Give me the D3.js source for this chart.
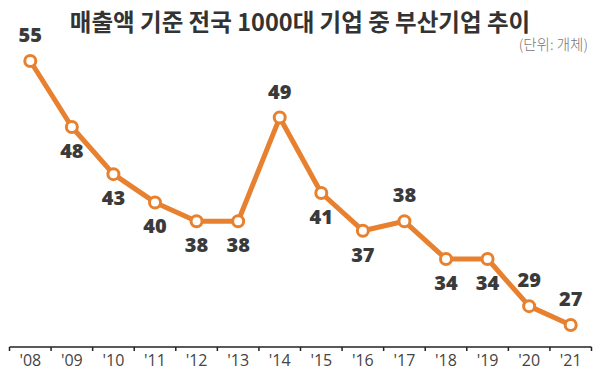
<!DOCTYPE html>
<html><head><meta charset="utf-8">
<script src="https://cdn.jsdelivr.net/npm/d3@7"></script>
<style>body{margin:0;background:#fff}svg{display:block}</style>
</head><body>
<svg id="c" width="600" height="392"></svg>
<script>
const years = ["'08","'09","'10","'11","'12","'13","'14","'15","'16","'17","'18","'19","'20","'21"];
const counts = [55,48,43,40,38,38,49,41,37,38,34,34,29,27];
const labelAbove = [true,false,false,false,false,false,true,false,false,true,false,false,true,true];
const title = "매출액 기준 전국 1000대 기업 중 부산기업 추이";
const unit = "(단위: 개체)";

const svg = d3.select("#c");
const x = d3.scaleBand().domain(years).range([9.5, 591.5]);
const y = d3.scaleLinear().domain([27, 55]).range([325, 61]);
const orange = "#E8812F";

svg.append("text").attr("x", 300).attr("y", 31).attr("text-anchor","middle")
  .attr("font-family","'Noto Sans CJK KR'").attr("font-weight",700).attr("font-size",23.5)
  .attr("fill","#333").text(title);
svg.append("text").attr("x", 588).attr("y", 50).attr("text-anchor","end")
  .attr("font-family","'Noto Sans CJK KR'").attr("font-weight",300).attr("font-size",14.5)
  .attr("fill","#777").text(unit);

const axis = svg.append("g").attr("transform","translate(0,347)");
axis.append("line").attr("x1",9.5).attr("x2",591.5).attr("stroke","#222").attr("stroke-width",1.5);
axis.selectAll("line.t").data(d3.range(years.length+1)).join("line")
  .attr("x1",i=>9.5+i*x.step()).attr("x2",i=>9.5+i*x.step())
  .attr("y1",0).attr("y2",4).attr("stroke","#222").attr("stroke-width",1.5);
axis.selectAll("text").data(years).join("text")
  .attr("x",d=>x(d)+x.bandwidth()/2).attr("y",19).attr("text-anchor","middle")
  .attr("font-family","'Open Sans', sans-serif").attr("font-size",16)
  .attr("fill","#444").text(d=>d);

const pts = years.map((d,i)=>({yr:d, v:counts[i], up:labelAbove[i]}));
const cx = d=>x(d.yr)+x.bandwidth()/2;
svg.append("path").datum(pts)
  .attr("d", d3.line().x(cx).y(d=>y(d.v)))
  .attr("fill","none").attr("stroke",orange).attr("stroke-width",5).attr("stroke-linejoin","round");
svg.selectAll("circle").data(pts).join("circle")
  .attr("cx",cx).attr("cy",d=>y(d.v)).attr("r",5.5)
  .attr("fill","#fff").attr("stroke",orange).attr("stroke-width",3);
svg.selectAll("text.v").data(pts).join("text").attr("class","v")
  .attr("x",cx).attr("y",d=>y(d.v)+(d.up?-19:31)).attr("text-anchor","middle")
  .attr("font-family","'Open Sans', sans-serif").attr("font-weight",800).attr("font-size",20)
  .attr("fill","#3a3a3a").text(d=>d.v);
</script>
</body></html>
